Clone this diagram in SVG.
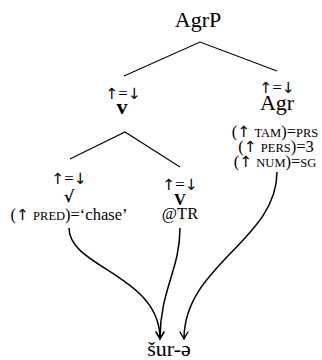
<svg xmlns="http://www.w3.org/2000/svg" width="322" height="360" viewBox="0 0 322 360">
<defs>
<style>
text{font-family:"Liberation Serif","DejaVu Serif",serif;fill:#000;text-anchor:middle}
.big{font-size:22px}
.eq{font-size:17px}
.ann{font-size:16.5px}
.sc{font-size:12.5px}
.ar{font-family:"DejaVu Sans",sans-serif;font-size:15.5px}
.bold{font-weight:bold}
.rt{font-family:"DejaVu Serif",serif;font-weight:bold;font-size:16px}
.tree{stroke:#000;stroke-width:1.1;fill:none}
.arr{stroke:#000;stroke-width:1.5;fill:none;marker-end:url(#tip)}
</style>
<marker id="tip" viewBox="-8 -5 10 10" refX="0" refY="0" markerWidth="10" markerHeight="10" markerUnits="userSpaceOnUse" orient="auto">
<path d="M-7,-4 Q-2,-1 0,0 Q-2,1 -7,4" fill="none" stroke="#000" stroke-width="1.4" stroke-linecap="round"/>
</marker>
</defs>
<g id="AgrP"><text class="big" x="198" y="27">AgrP</text></g>
<g id="v">
<text class="eq" x="123" y="99"><tspan class="ar">↑</tspan>=<tspan class="ar">↓</tspan></text>
<text class="big bold" x="122" y="114">v</text>
</g>
<g id="Agr">
<text class="eq" x="277" y="93"><tspan class="ar">↑</tspan>=<tspan class="ar">↓</tspan></text>
<text class="big" x="277" y="110">Agr</text>
<text class="ann" x="275" y="137">(<tspan class="ar">↑</tspan> <tspan class="sc">TAM</tspan>)=<tspan class="sc">PRS</tspan></text>
<text class="ann" x="276" y="152">(<tspan class="ar">↑</tspan> <tspan class="sc">PERS</tspan>)=3</text>
<text class="ann" x="275" y="167">(<tspan class="ar">↑</tspan> <tspan class="sc">NUM</tspan>)=<tspan class="sc">SG</tspan></text>
</g>
<g id="root">
<text class="eq" x="69" y="184"><tspan class="ar">↑</tspan>=<tspan class="ar">↓</tspan></text>
<text class="rt" x="69" y="202">√</text>
<text class="ann" x="69" y="220">(<tspan class="ar">↑</tspan> <tspan class="sc">PRED</tspan>)=‘chase’</text>
</g>
<g id="V">
<text class="eq" x="180" y="190"><tspan class="ar">↑</tspan>=<tspan class="ar">↓</tspan></text>
<text class="ann bold" x="180" y="205">V</text>
<text class="ann" x="180" y="219">@TR</text>
</g>
<g id="sure"><text class="big" x="169" y="356">šur-ə</text></g>
<g id="connectors">
<path class="tree" d="M124,76 L200,42 L277,71"/>
<path class="tree" d="M70,159 L125,132 L180,167"/>
<path class="arr" d="M69,228 C69,268 160,275 160,339"/>
<path class="arr" d="M180,228 C180,270 160,290 160,339"/>
<path class="arr" d="M277,172 C277,240 184,265 184,339"/>
</g>
</svg>
